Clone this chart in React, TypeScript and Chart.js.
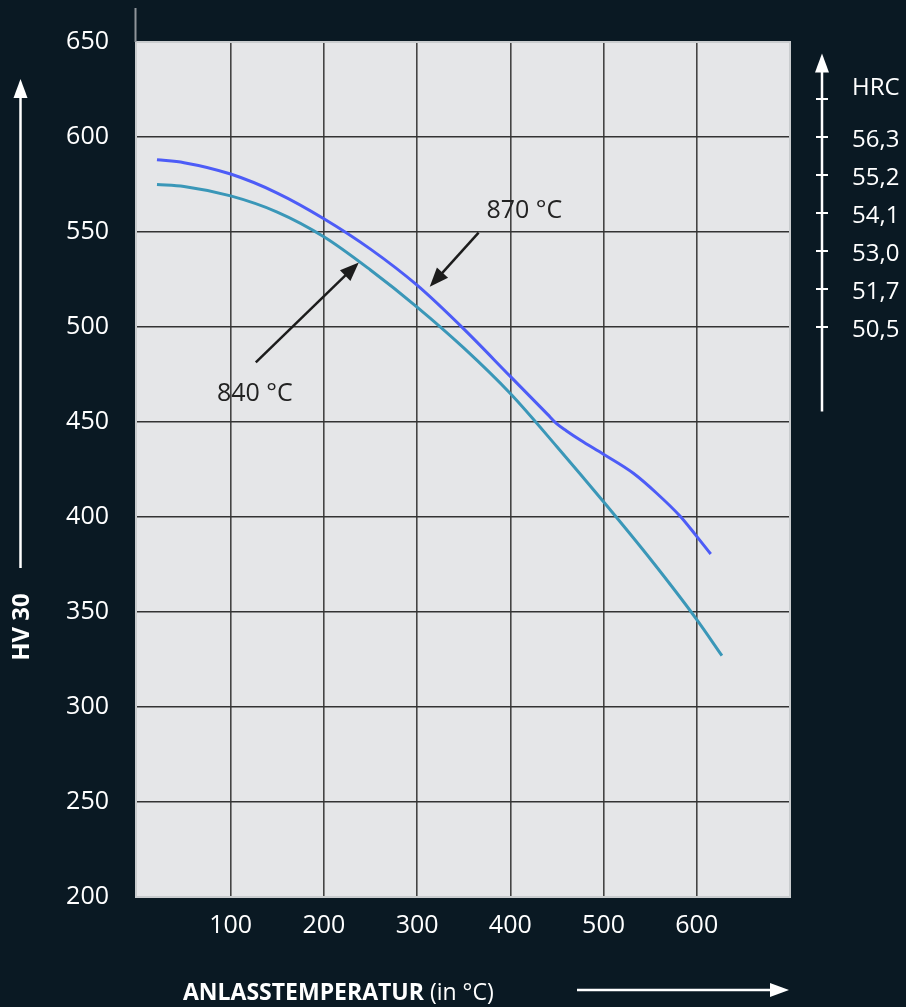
import React, { useEffect, useRef } from "react";
import { Chart, registerables } from "chart.js";

Chart.register(...registerables);

// ---- data ----
const xTickValues = [100, 200, 300, 400, 500, 600];
const yTickValues = [200, 250, 300, 350, 400, 450, 500, 550, 600, 650];

const temps870 = [21, 50, 100, 150, 200, 250, 300, 350, 400, 440, 450, 460, 475, 500, 532, 557, 582, 598, 615];
const hv870 = [588, 586.5, 580.5, 570.5, 557, 541, 522, 499, 474, 454, 449, 445.4, 440.5, 433, 423, 412.5, 400.5, 391, 380.5];

const temps840 = [21, 50, 100, 150, 200, 250, 300, 350, 400, 450, 500, 550, 600, 627];
const hv840 = [575, 574, 569, 560.5, 547.5, 530, 510.5, 489, 465, 437, 408, 378, 346, 327];

const hrcLabels = ["56,3", "55,2", "54,1", "53,0", "51,7", "50,5"];
const hrcAtHV = [600, 580, 560, 540, 520, 500];
const hrcTopTickHV = 620;

const seriesNames = ["870 °C", "840 °C"];
// annotation arrows (data coords): [tailX, tailY, tipX, tipY, labelX, labelY]
const arrow870 = [366, 549.7, 313.6, 521.2, 415, 561];
const arrow840 = [127, 481.4, 237.5, 534, 126, 465];

const BG = "#0a1923";
const PLOT = "#e5e6e8";
const FONT = "'Open Sans', 'Noto Sans', sans-serif";

function arrowHead(ctx, x1, y1, x2, y2, len, wid) {
  const a = Math.atan2(y2 - y1, x2 - x1);
  const bx = x2 - len * Math.cos(a);
  const by = y2 - len * Math.sin(a);
  const px = -Math.sin(a) * wid / 2;
  const py = Math.cos(a) * wid / 2;
  ctx.beginPath();
  ctx.moveTo(x2, y2);
  ctx.lineTo(bx + px, by + py);
  ctx.lineTo(bx - px, by - py);
  ctx.closePath();
  ctx.fill();
}

const decor = {
  id: "decor",
  beforeDraw(chart) {
    const { ctx, chartArea: a } = chart;
    ctx.save();
    ctx.fillStyle = BG;
    ctx.fillRect(0, 0, chart.width, chart.height);
    ctx.fillStyle = PLOT;
    ctx.fillRect(a.left, a.top, a.right - a.left, a.bottom - a.top);
    ctx.restore();
  },
  afterDraw(chart) {
    const { ctx, chartArea: a, scales } = chart;
    const xs = scales.x, ys = scales.y;
    ctx.save();
    // plot border
    ctx.strokeStyle = "#c9ccce";
    ctx.lineWidth = 2;
    ctx.strokeRect(a.left, a.top, a.right - a.left, a.bottom - a.top);
    ctx.strokeStyle = "#8f959a";
    ctx.lineWidth = 2;
    ctx.beginPath();
    ctx.moveTo(a.left - 0.5, 8);
    ctx.lineTo(a.left - 0.5, a.top);
    ctx.stroke();

    // annotation arrows
    ctx.strokeStyle = "#1c1c1c";
    ctx.fillStyle = "#1c1c1c";
    ctx.lineWidth = 2.5;
    const arrows = [arrow870, arrow840];
    arrows.forEach((ar, i) => {
      const x1 = xs.getPixelForValue(ar[0]);
      const y1 = ys.getPixelForValue(ar[1]);
      const x2 = xs.getPixelForValue(ar[2]);
      const y2 = ys.getPixelForValue(ar[3]);
      const ang = Math.atan2(y2 - y1, x2 - x1);
      ctx.beginPath();
      ctx.moveTo(x1, y1);
      ctx.lineTo(x2 - 14 * Math.cos(ang), y2 - 14 * Math.sin(ang));
      ctx.stroke();
      arrowHead(ctx, x1, y1, x2, y2, 19, 15);
      ctx.font = `25px ${FONT}`;
      ctx.textAlign = "center";
      ctx.textBaseline = "middle";
      ctx.fillStyle = "#222222";
      ctx.fillText(seriesNames[i], xs.getPixelForValue(ar[4]), ys.getPixelForValue(ar[5]));
      ctx.fillStyle = "#1c1c1c";
    });

    // left axis arrow + title
    ctx.strokeStyle = "#ffffff";
    ctx.fillStyle = "#ffffff";
    ctx.lineWidth = 2.5;
    ctx.beginPath();
    ctx.moveTo(20.5, 568);
    ctx.lineTo(20.5, 92);
    ctx.stroke();
    arrowHead(ctx, 20.5, 568, 20.5, 79, 19, 14);
    ctx.save();
    ctx.translate(22, 627);
    ctx.rotate(-Math.PI / 2);
    ctx.font = `bold 24px ${FONT}`;
    ctx.textAlign = "center";
    ctx.textBaseline = "middle";
    ctx.fillText("HV 30", 0, 0);
    ctx.restore();

    // bottom title + arrow
    ctx.font = `bold 23px ${FONT}`;
    ctx.textAlign = "left";
    ctx.textBaseline = "alphabetic";
    const t1 = "ANLASSTEMPERATUR";
    ctx.fillText(t1, 183, 1000);
    const w1 = ctx.measureText(t1).width;
    ctx.font = `23px ${FONT}`;
    ctx.fillText(" (in °C)", 183 + w1, 1000);
    ctx.beginPath();
    ctx.moveTo(577, 990);
    ctx.lineTo(775, 990);
    ctx.stroke();
    arrowHead(ctx, 577, 990, 789, 990, 19, 14);

    // right HRC axis
    const rx = 822;
    const yTop = ys.getPixelForValue(644);
    const yBot = ys.getPixelForValue(455.5);
    ctx.beginPath();
    ctx.moveTo(rx, yBot);
    ctx.lineTo(rx, yTop + 12);
    ctx.stroke();
    arrowHead(ctx, rx, yBot, rx, yTop, 19, 14);
    ctx.lineWidth = 2;
    const tickYs = [hrcTopTickHV, ...hrcAtHV].map((v) => ys.getPixelForValue(v));
    tickYs.forEach((ty) => {
      ctx.beginPath();
      ctx.moveTo(rx - 6, ty);
      ctx.lineTo(rx + 6, ty);
      ctx.stroke();
    });
    ctx.font = `24px ${FONT}`;
    ctx.textAlign = "left";
    ctx.textBaseline = "middle";
    ctx.fillText("HRC", 852, ys.getPixelForValue(hrcTopTickHV) - 11);
    hrcLabels.forEach((lab, i) => {
      ctx.fillText(lab, 852, ys.getPixelForValue(hrcAtHV[i]) + 3);
    });
    ctx.restore();
  },
};

export default function App() {
  const ref = useRef(null);
  useEffect(() => {
    const chart = new Chart(ref.current, {
      type: "line",
      data: {
        datasets: [
          {
            label: seriesNames[0],
            data: temps870.map((t, i) => ({ x: t, y: hv870[i] })),
            borderColor: "#4d5cf7",
            borderWidth: 3,
            pointRadius: 0,
            cubicInterpolationMode: "monotone",
            fill: false,
          },
          {
            label: seriesNames[1],
            data: temps840.map((t, i) => ({ x: t, y: hv840[i] })),
            borderColor: "#3a97b8",
            borderWidth: 3,
            pointRadius: 0,
            cubicInterpolationMode: "monotone",
            fill: false,
          },
        ],
      },
      options: {
        responsive: false,
        animation: false,
        devicePixelRatio: 1,
        layout: { padding: { top: 40, right: 116, left: 0, bottom: 0 } },
        plugins: { legend: { display: false }, tooltip: { enabled: false }, title: { display: false } },
        scales: {
          x: {
            type: "linear",
            min: -1.5,
            max: 700,
            afterBuildTicks: (s) => {
              s.ticks = xTickValues.map((v) => ({ value: v }));
            },
            afterFit: (s) => {
              s.height = 110;
            },
            grid: { color: "#444444", lineWidth: 1.6, drawTicks: false },
            border: { display: false },
            ticks: {
              color: "#ffffff",
              font: { family: FONT, size: 25 },
              padding: 14,
              maxRotation: 0,
              autoSkip: false,
            },
          },
          y: {
            type: "linear",
            min: 200,
            max: 650,
            afterBuildTicks: (s) => {
              s.ticks = yTickValues.map((v) => ({ value: v }));
            },
            afterFit: (s) => {
              s.width = 136;
            },
            grid: {
              color: (c) => (c.tick && (c.tick.value === 200 || c.tick.value === 650) ? "rgba(0,0,0,0)" : "#333333"),
              lineWidth: 1.6,
              drawTicks: false,
            },
            border: { display: false },
            ticks: {
              color: "#ffffff",
              font: { family: FONT, size: 25 },
              padding: 27,
              autoSkip: false,
            },
          },
        },
      },
      plugins: [decor],
    });
    return () => chart.destroy();
  }, []);
  return (
    <div style={{ position: "fixed", left: 0, top: 0, width: 906, height: 1007, background: BG }}>
      <canvas ref={ref} width={906} height={1007} style={{ width: 906, height: 1007, display: "block" }} />
    </div>
  );
}
